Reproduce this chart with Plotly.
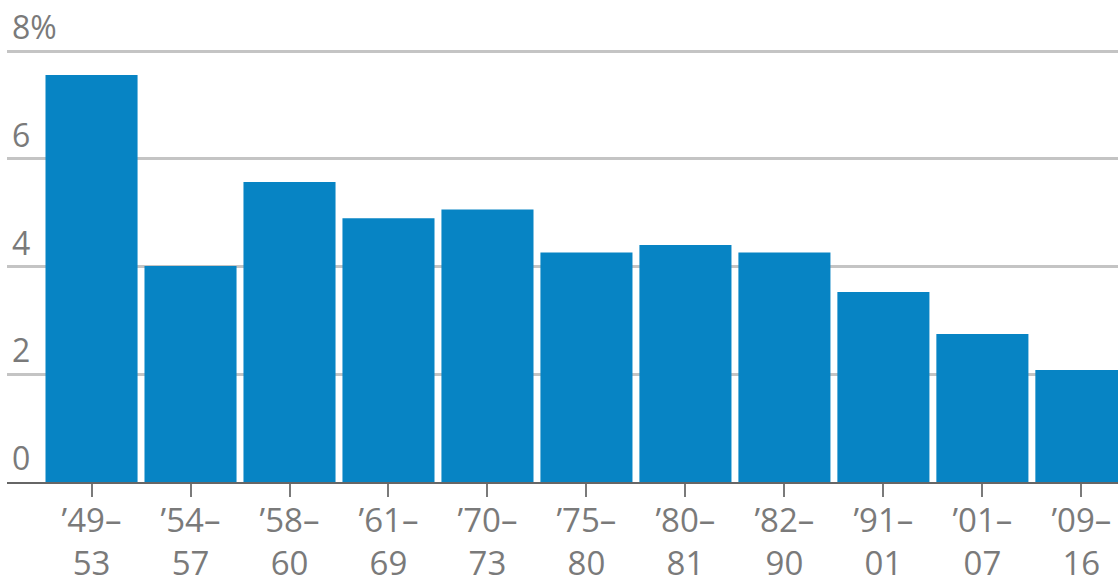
import plotly.graph_objects as go

periods = ["’49–<br>53", "’54–<br>57", "’58–<br>60", "’61–<br>69", "’70–<br>73", "’75–<br>80",
           "’80–<br>81", "’82–<br>90", "’91–<br>01", "’01–<br>07", "’09–<br>16"]
values = [7.56, 4.01, 5.57, 4.90, 5.06, 4.26, 4.40, 4.26, 3.53, 2.75, 2.08]
y_ticks = [0, 2, 4, 6, 8]
y_tick_labels = ["0", "2", "4", "6", "8%"]

FONT = "Open Sans"
GRAY = "#7a7a7a"

fig = go.Figure()
fig.add_trace(go.Bar(
    x=list(range(len(periods))),
    y=values,
    marker=dict(color="#0784c4", line=dict(width=0)),
    hoverinfo="skip",
))

annotations = []
for v, lab in zip(y_ticks, y_tick_labels):
    annotations.append(dict(
        x=0, xref="paper", y=v, yref="y", text=lab, showarrow=False,
        xanchor="left", yanchor="bottom", xshift=3, yshift=1,
        font=dict(family=FONT, size=32, color=GRAY),
    ))

fig.update_layout(
    width=1118, height=582,
    margin=dict(l=7, r=0, t=48, b=100),
    paper_bgcolor="white", plot_bgcolor="white",
    bargap=0.07,
    showlegend=False,
    annotations=annotations,
    xaxis=dict(
        range=[-0.854, 10.37],
        tickmode="array", tickvals=list(range(len(periods))), ticktext=periods,
        ticks="outside", ticklen=13, tickwidth=2, tickcolor=GRAY,
        ticklabelstandoff=-5,
        showline=True, linecolor="#666666", linewidth=2,
        showgrid=False, zeroline=False, automargin=False,
        tickfont=dict(family=FONT, size=33, color=GRAY),
        fixedrange=True,
    ),
    yaxis=dict(
        range=[0, 8.06],
        tickmode="array", tickvals=y_ticks,
        showticklabels=False, automargin=False,
        showgrid=True, gridcolor="#c4c4c4", gridwidth=2.5,
        zeroline=False, fixedrange=True,
    ),
)

fig.write_html("out.html")
